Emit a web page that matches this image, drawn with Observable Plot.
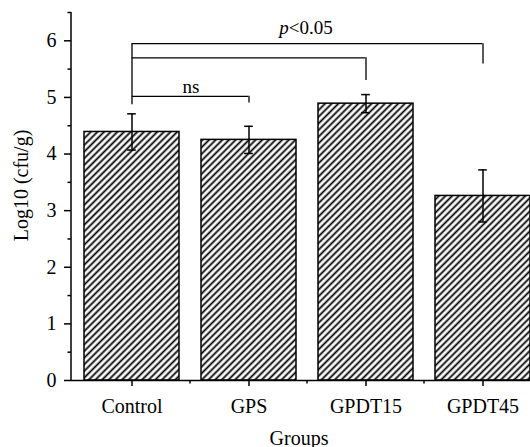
<!DOCTYPE html>
<html>
<head>
<meta charset="utf-8">
<script src="https://cdn.jsdelivr.net/npm/d3@7"></script>
<script src="https://cdn.jsdelivr.net/npm/@observablehq/plot@0.6"></script>
<style>
  html, body { margin: 0; padding: 0; overflow: hidden; background: #fff; }
  #chart svg { display: block; max-width: none !important; }
</style>
</head>
<body>
<div id="chart"></div>
<script>
// ---- data ----
const groups = ["Control", "GPS", "GPDT15", "GPDT45"];
const means = [4.39, 4.25, 4.89, 3.26];
const errors = [0.32, 0.24, 0.16, 0.46];
const yTicks = [0, 1, 2, 3, 4, 5, 6];
const yMinorTicks = [0.5, 1.5, 2.5, 3.5, 4.5, 5.5, 6.5];

// significance brackets (all from Control)
const bracketFrom = "Control";
const bracketFromBase = 4.87;
const bracketTo = ["GPS", "GPDT15", "GPDT45"];
const bracketTop = [5.02, 5.70, 5.95];
const bracketToBase = [4.90, 5.30, 5.59];
const nsLabel = "ns";
const sigLabel = "p<0.05";

const xLabel = "Groups";
const yLabel = "Log10 (cfu/g)";

const data = groups.map((g, i) => ({group: g, mean: means[i], lo: means[i] - errors[i], hi: means[i] + errors[i]}));
const br = bracketTo.map((g, i) => ({to: g, top: bracketTop[i], base: bracketToBase[i]}));

const FONT = "Liberation Serif, Times New Roman, serif";
const W = 542, ML = 71, PI = 0.19, PO = 0.095;
const step = (W - ML) / (groups.length - PI + 2 * PO);
const bw = step * (1 - PI);
const capInset = (bw - 9) / 2;

const chart = Plot.plot({
  width: W,
  height: 447,
  marginLeft: ML,
  marginRight: 0,
  marginTop: 12,
  marginBottom: 67,
  style: {fontFamily: FONT, fontSize: "20px", color: "black", background: "white", maxWidth: "none"},
  x: {domain: groups, paddingInner: PI, paddingOuter: PO, label: null, axis: null},
  y: {domain: [0, 6.5], label: null, axis: null},
  marks: [
    Plot.barY(data, {x: "group", y: "mean", fill: "url(#hatch)", stroke: "black", strokeWidth: 1.5}),
    // error bars
    Plot.ruleX(data, {x: "group", y1: "lo", y2: "hi", stroke: "black", strokeWidth: 1.5}),
    Plot.tickY(data, {x: "group", y: "hi", stroke: "black", strokeWidth: 1.5, insetLeft: capInset, insetRight: capInset}),
    Plot.tickY(data, {x: "group", y: "lo", stroke: "black", strokeWidth: 1.5, insetLeft: capInset, insetRight: capInset}),
    // brackets
    Plot.ruleY(br, {x1: () => bracketFrom, x2: "to", y: "top", stroke: "black", strokeWidth: 1.3, insetLeft: bw / 2, insetRight: bw / 2}),
    Plot.ruleX(br, {x: "to", y1: "base", y2: "top", stroke: "black", strokeWidth: 1.3}),
    Plot.ruleX([bracketFrom], {x: d => d, y1: () => bracketFromBase, y2: () => d3.max(bracketTop), stroke: "black", strokeWidth: 1.3}),
    Plot.text([nsLabel], {x: () => bracketTo[0], y: () => bracketTop[0], text: d => d, dx: -58, dy: -9.5, fontSize: 19, fill: "black"}),
    Plot.text([sigLabel], {x: () => bracketTo[1], y: () => bracketTop[2], text: d => d, dx: -60, dy: -16, fontSize: 19, fill: "black"}),
    // axes
    Plot.ruleY([0], {stroke: "black", strokeWidth: 1.5}),
    Plot.axisY({ticks: yTicks, tickFormat: d3.format("d"), tickSize: 7, tickPadding: 8, strokeWidth: 1.5, fontSize: 20, label: null}),
    Plot.axisY({ticks: yMinorTicks, tickSize: 3.5, tickFormat: () => "", strokeWidth: 1.5, label: null}),
    Plot.axisX({tickSize: 6, tickPadding: 12, strokeWidth: 1.5, fontSize: 20, label: null}),
    // axis titles
    Plot.text([xLabel], {frameAnchor: "bottom", textAnchor: "middle", lineAnchor: "middle", text: d => d, dx: -8, dy: 57.6, fontSize: 20, fill: "black"}),
    Plot.text([yLabel], {frameAnchor: "left", textAnchor: "middle", lineAnchor: "middle", text: d => d, rotate: -90, dx: -50, dy: -11, fontSize: 20, fill: "black"})
  ]
});

const svg = d3.select(chart);
svg.style("max-width", "none");
// hatch pattern
const defs = svg.insert("defs", ":first-child");
const pat = defs.append("pattern")
  .attr("id", "hatch")
  .attr("patternUnits", "userSpaceOnUse")
  .attr("width", 4.7).attr("height", 10)
  .attr("patternTransform", "rotate(45)");
pat.append("rect").attr("width", 4.7).attr("height", 10).attr("fill", "white");
pat.append("line").attr("x1", 2.35).attr("x2", 2.35).attr("y1", 0).attr("y2", 10)
  .attr("stroke", "black").attr("stroke-width", 1.8);

// y axis line and minor x ticks, from the plot's own scales
const xs = chart.scale("x");
const ys = chart.scale("y");
const x0 = xs.range[0];
svg.append("line")
  .attr("x1", x0).attr("x2", x0)
  .attr("y1", ys.apply(ys.domain[1])).attr("y2", ys.apply(0))
  .attr("stroke", "black").attr("stroke-width", 1.5);
const gap = (xs.step - xs.bandwidth) / 2;
groups.slice(1).forEach(g => {
  const xp = xs.apply(g) - gap;
  svg.append("line")
    .attr("x1", xp).attr("x2", xp)
    .attr("y1", ys.apply(0)).attr("y2", ys.apply(0) + 3.5)
    .attr("stroke", "black").attr("stroke-width", 1.5);
});

// italic p in the significance label
svg.selectAll("text").filter(function() { return this.textContent === sigLabel; }).each(function() {
  const t = d3.select(this);
  t.text(null);
  t.append("tspan").attr("font-style", "italic").text("p");
  t.append("tspan").text("<0.05");
});

document.getElementById("chart").appendChild(chart);
</script>
</body>
</html>
